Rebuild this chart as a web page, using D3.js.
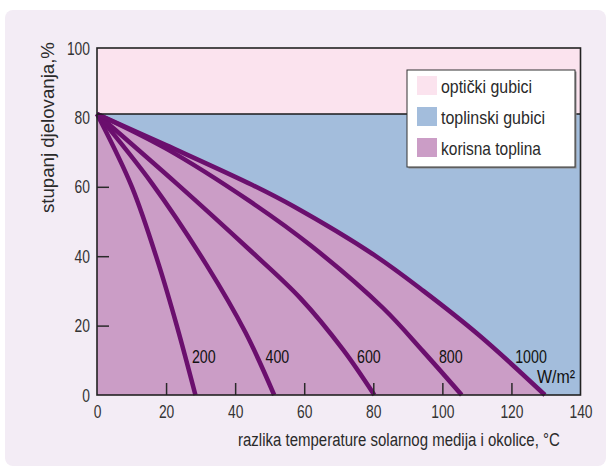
<!DOCTYPE html>
<html>
<head>
<meta charset="utf-8">
<script src="https://cdn.jsdelivr.net/npm/d3@7"></script>
<style>
  body { margin: 0; background: #fff; }
  text { font-family: "Liberation Sans", "DejaVu Sans", sans-serif; fill: #2a2a2a; }
  .tick text { font-size: 19px; fill: #333; }
  .curve-label { font-size: 19px; fill: #111; }
</style>
</head>
<body>
<svg id="chart" width="611" height="469"></svg>
<script>
// irradiance levels W/m2
const irradiance = [200, 400, 600, 800, 1000];

// temperature difference (°C) and efficiency (%)
const dT200 = [0, 10.1, 17.9, 23.1, 28.5];
const eta200 = [81, 60, 37.5, 20, 0];
const dT400 = [0, 15.9, 31.7, 43, 51.3];
const eta400 = [81, 61, 37.5, 18, 0];
const dT600 = [0, 23, 44, 58.8, 71.3, 80.3];
const eta600 = [81, 61, 42, 28, 13, 0];
const dT800 = [0, 20, 44, 62, 82.9, 94.5, 105.6];
const eta800 = [81, 71, 56, 43, 25, 12.5, 0];
const dT1000 = [0, 20, 45, 57, 80, 94.5, 110.9, 129.7];
const eta1000 = [81, 72, 60.5, 54.3, 40.5, 30, 17, 0];

const opticalLimit = 81; // above this: optical losses

const xTicks = [0, 20, 40, 60, 80, 100, 120, 140];
const yTicks = [0, 20, 40, 60, 80, 100];

const legendLabels = ["optički gubici", "toplinski gubici", "korisna toplina"];
const legendColors = ["#fbe3ee", "#a3bddc", "#cb9dc6"];

(function () {
  const svg = d3.select("#chart"),
    margin = { top: 48, right: 30.5, bottom: 74, left: 97 },
    width = +svg.attr("width") - margin.left - margin.right,
    height = +svg.attr("height") - margin.top - margin.bottom;

  // squeeze short text to the condensed widths of the original
  const fit = (sel, w) =>
    sel.attr("textLength", w).attr("lengthAdjust", "spacingAndGlyphs");

  // long text: scale horizontally so its box is really narrow
  const squeeze = (sel, w, pre) => {
    const len = sel.node().getComputedTextLength();
    sel.attr("transform", `${pre} scale(${w / len},1)`);
  };

  // background panel
  svg.append("rect")
    .attr("x", 5).attr("y", 10)
    .attr("width", 601).attr("height", 456)
    .attr("rx", 8)
    .attr("fill", "#f3ecf5");

  const chart = svg.append("g")
    .attr("transform", `translate(${margin.left},${margin.top})`);

  const x = d3.scaleLinear().domain([0, 140]).range([0, width]);
  const y = d3.scaleLinear().domain([0, 100]).range([height, 0]);

  const curves = [
    [dT200, eta200],
    [dT400, eta400],
    [dT600, eta600],
    [dT800, eta800],
    [dT1000, eta1000],
  ].map(([xs, ys], i) => ({
    level: irradiance[i],
    points: xs.map((d, j) => ({ dT: d, eta: ys[j] })),
  }));

  // optical losses band
  chart.append("rect")
    .attr("x", x(0)).attr("y", y(100))
    .attr("width", x(140) - x(0))
    .attr("height", y(opticalLimit) - y(100))
    .attr("fill", legendColors[0]);

  // thermal losses band
  chart.append("rect")
    .attr("x", x(0)).attr("y", y(opticalLimit))
    .attr("width", x(140) - x(0))
    .attr("height", y(0) - y(opticalLimit))
    .attr("fill", legendColors[1]);

  // useful heat under the 1000 W/m2 curve
  const area = d3.area()
    .x((d) => x(d.dT))
    .y0(y(0))
    .y1((d) => y(d.eta))
    .curve(d3.curveCatmullRom.alpha(0.5));

  chart.append("path")
    .datum(curves[4].points)
    .attr("fill", legendColors[2])
    .attr("d", area);

  const line = d3.line()
    .x((d) => x(d.dT))
    .y((d) => y(d.eta))
    .curve(d3.curveCatmullRom.alpha(0.5));

  chart.selectAll("path.curve")
    .data(curves)
    .join("path")
    .attr("class", "curve")
    .attr("fill", "none")
    .attr("stroke", "#6b0f6e")
    .attr("stroke-width", 4.5)
    .attr("d", (d) => line(d.points));

  // line at optical limit
  chart.append("line")
    .attr("x1", x(0)).attr("x2", x(140))
    .attr("y1", y(opticalLimit)).attr("y2", y(opticalLimit))
    .attr("stroke", "#1a1a1a")
    .attr("stroke-width", 1.6);

  // axes
  const xAxis = chart.append("g")
    .attr("transform", `translate(0,${height})`)
    .call(d3.axisBottom(x).tickValues(xTicks).tickSize(-12).tickSizeOuter(0).tickPadding(10));
  xAxis.select(".domain").remove();
  xAxis.selectAll(".tick line")
    .attr("stroke", "#2a2a2a").attr("stroke-width", 1.5)
    .filter((d) => d === 0 || d === 140).remove();

  const yAxis = chart.append("g")
    .call(d3.axisLeft(y).tickValues(yTicks).tickSize(-12).tickSizeOuter(0).tickPadding(7));
  yAxis.select(".domain").remove();
  yAxis.selectAll(".tick line")
    .attr("stroke", "#2a2a2a").attr("stroke-width", 1.5)
    .filter((d) => d === 0 || d === 100 || d === 80).remove();

  [xAxis, yAxis].forEach((g) => {
    g.attr("font-family", null).attr("font-size", null);
    g.selectAll(".tick text")
      .each(function (d) { fit(d3.select(this), String(d).length * 7.7); });
  });

  // frame
  chart.append("rect")
    .attr("x", 0).attr("y", 0)
    .attr("width", width).attr("height", height)
    .attr("fill", "none")
    .attr("stroke", "#222")
    .attr("stroke-width", 1.6);

  // curve labels
  const labelPos = [27.5, 48.8, 75.3, 99, 121.1];
  chart.selectAll("text.curve-label")
    .data(curves)
    .join("text")
    .attr("class", "curve-label")
    .attr("x", (d, i) => x(labelPos[i]))
    .attr("y", y(9.2))
    .text((d) => d.level)
    .each(function (d) { fit(d3.select(this), String(d.level).length * 7.9); });

  chart.append("text")
    .attr("class", "curve-label")
    .attr("text-anchor", "end")
    .attr("x", x(138.4))
    .attr("y", y(3.6))
    .text("W/m²")
    .call(fit, 38);

  // legend
  const legend = chart.append("g")
    .attr("transform", `translate(${407 - margin.left},${70 - margin.top})`);
  legend.append("rect")
    .attr("x", 1.5).attr("y", 1.5)
    .attr("width", 168).attr("height", 97)
    .attr("fill", "#8a8a8a");
  legend.append("rect")
    .attr("width", 168).attr("height", 97)
    .attr("fill", "#fff")
    .attr("stroke", "#333")
    .attr("stroke-width", 1);
  const legendWidths = [91, 104, 100];
  const items = legend.selectAll("g.item")
    .data(legendLabels)
    .join("g")
    .attr("class", "item")
    .attr("transform", (d, i) => `translate(10,${6 + i * 31})`);
  items.append("rect")
    .attr("width", 20).attr("height", 19)
    .attr("fill", (d, i) => legendColors[i]);
  items.append("text")
    .attr("x", 24).attr("y", 10)
    .attr("dy", "0.35em")
    .style("font-size", "19px")
    .text((d) => d)
    .each(function (d, i) { fit(d3.select(this), legendWidths[i]); });

  // axis titles
  chart.append("text")
    .style("font-size", "19px")
    .text("razlika temperature solarnog medija i okolice, °C")
    .call(squeeze, 322, `translate(${238 - margin.left},${446 - margin.top})`);

  chart.append("text")
    .style("font-size", "19px")
    .text("stupanj djelovanja,%")
    .call(squeeze, 171, `translate(${54 - margin.left},${213 - margin.top}) rotate(-90)`);
})();
</script>
</body>
</html>
